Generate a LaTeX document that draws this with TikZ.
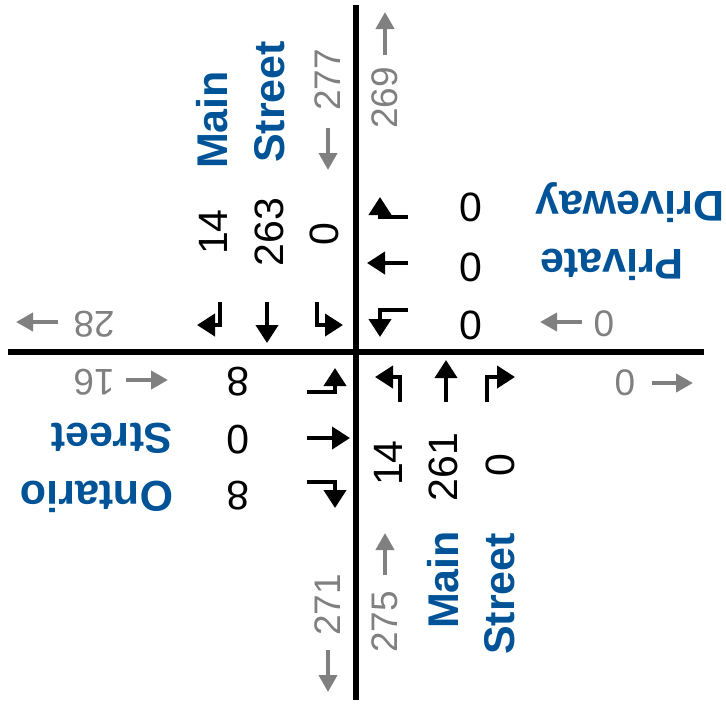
\documentclass[tikz,border=0pt]{standalone}
\usepackage{fontspec}
\setmainfont{Liberation Sans}
\usetikzlibrary{arrows.meta}
\definecolor{tmcblue}{RGB}{0,83,150}
\definecolor{tmcgray}{RGB}{128,128,128}
\tikzset{
  tmcvol/.style={font=\fontsize{20.5}{20.5}\selectfont, inner sep=0pt},
  tmcexit/.style={font=\fontsize{18.5}{18.5}\selectfont, text=tmcgray, inner sep=0pt},
  tmcname/.style={font=\fontsize{21.5}{21.5}\selectfont\bfseries, text=tmcblue, inner sep=0pt},
  tmcroad/.style={line width=3pt},
  tmcar/.style={-{Triangle[length=9pt,width=11pt]}, line width=2pt},
  tmcgar/.style={-{Triangle[length=8.5pt,width=9pt]}, line width=2pt, draw=tmcgray},
}

\begin{document}
\begin{tikzpicture}[x=0.5pt, y=-0.5pt]
  \useasboundingbox (0,0) rectangle (726,708);

  % the two roads
  \draw[tmcroad] (356,5) -- (356,700);
  \draw[tmcroad] (8,352) -- (704,352);

  % street names
  \node[tmcname, rotate=90] (nmain) at (212,120) {Main};
  \node[tmcname, rotate=90] (nstreet) at (270,102) {Street};
  \node[tmcname, rotate=90] (smain) at (443,580) {Main};
  \node[tmcname, rotate=90] (sstreet) at (500,594) {Street};
  \node[tmcname, rotate=180] (edrive) at (630,203) {Driveway};
  \node[tmcname, rotate=180] (epriv) at (612,265) {Private};
  \node[tmcname, rotate=180] (wstreet) at (112,438) {Street};
  \node[tmcname, rotate=180] (wont) at (97,497) {Ontario};

  % turning volumes
  \node[tmcvol, rotate=90] (nr) at (213,232) {14};
  \node[tmcvol, rotate=90] (nt) at (269,232) {263};
  \node[tmcvol, rotate=90] (nl) at (324,234) {0};
  \node[tmcvol] (er) at (471,207) {0};
  \node[tmcvol] (et) at (471,267) {0};
  \node[tmcvol] (el) at (471,325) {0};
  \node[tmcvol, rotate=180] (wl) at (238,382) {8};
  \node[tmcvol, rotate=180] (wt) at (238,440) {0};
  \node[tmcvol, rotate=180] (wr) at (238,496) {8};
  \node[tmcvol, rotate=90] (sl) at (388,463) {14};
  \node[tmcvol, rotate=90] (st) at (443,467) {261};
  \node[tmcvol, rotate=90] (sr) at (500,465) {0};

  % approach and departure totals
  \node[tmcexit, rotate=90] (nin) at (328,80) {277};
  \node[tmcexit, rotate=90] (nout) at (385,98) {269};
  \node[tmcexit, rotate=180] (wout) at (94,324) {28};
  \node[tmcexit, rotate=180] (win) at (94,382) {16};
  \node[tmcexit] (ein) at (604,324) {0};
  \node[tmcexit] (eout) at (625,383) {0};
  \node[tmcexit, rotate=90] (sout) at (328,605) {271};
  \node[tmcexit, rotate=90] (sin) at (385,622) {275};

  % lane arrows
  \draw[tmcar] (220,302) -- (220,325) -- (197,325);
  \draw[tmcar] (267,302) -- (267,343);
  \draw[tmcar] (317,302) -- (317,325) -- (343,325);
  \draw[tmcar] (408,217) -- (380,217) -- (380,197);
  \draw[tmcar] (408,263) -- (367,263);
  \draw[tmcar] (408,310) -- (380,310) -- (380,337);
  \draw[tmcar] (307,392) -- (335,392) -- (335,368);
  \draw[tmcar] (307,438) -- (350,438);
  \draw[tmcar] (307,482) -- (335,482) -- (335,508);
  \draw[tmcar] (400,402) -- (400,377) -- (375,377);
  \draw[tmcar] (446,402) -- (446,360);
  \draw[tmcar] (487,402) -- (487,377) -- (515,377);

  % total arrows
  \draw[tmcgar] (328,128) -- (328,170);
  \draw[tmcgar] (385,55) -- (385,12);
  \draw[tmcgar] (58,322) -- (16,322);
  \draw[tmcgar] (126,380) -- (168,380);
  \draw[tmcgar] (582,322) -- (540,322);
  \draw[tmcgar] (652,383) -- (693,383);
  \draw[tmcgar] (328,650) -- (328,692);
  \draw[tmcgar] (385,575) -- (385,533);
\end{tikzpicture}
\end{document}
